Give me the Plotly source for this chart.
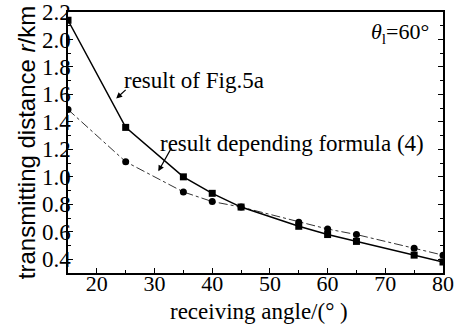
import plotly.graph_objects as go

angles = [15, 25, 35, 40, 45, 55, 60, 65, 75, 80]
fig5a_dist = [2.14, 1.36, 1.00, 0.88, 0.78, 0.64, 0.58, 0.53, 0.43, 0.38]
formula4_dist = [1.49, 1.11, 0.89, 0.82, 0.78, 0.67, 0.62, 0.58, 0.48, 0.43]

serif = "Liberation Serif"
sans = "Liberation Sans"

fig = go.Figure()
fig.add_trace(go.Scatter(
    x=angles, y=formula4_dist, mode="lines+markers",
    line=dict(color="#333333", width=1, dash="dashdot"),
    marker=dict(symbol="circle", size=7, color="black"),
    showlegend=False))
fig.add_trace(go.Scatter(
    x=angles, y=fig5a_dist, mode="lines+markers",
    line=dict(color="black", width=1.5),
    marker=dict(symbol="square", size=7, color="black"),
    showlegend=False))

fig.update_layout(
    width=458, height=325,
    margin=dict(l=68, r=15, t=12, b=52),
    paper_bgcolor="white", plot_bgcolor="white",
    font=dict(family=serif, size=22, color="black"),
    xaxis=dict(
        range=[15, 80], tickvals=[20, 30, 40, 50, 60, 70, 80],
        ticks="inside", ticklen=5, tickwidth=1.2, tickcolor="black",
        minor=dict(dtick=5, ticks="inside", ticklen=3, tickcolor="black"),
        showline=True, linecolor="black", linewidth=1.5, mirror=True,
        showgrid=False, zeroline=False, automargin=False,
        tickfont=dict(family=serif, size=22), ticklabelstandoff=-10,
    ),
    yaxis=dict(
        range=[0.3, 2.2], tickvals=[0.4, 0.6, 0.8, 1.0, 1.2, 1.4, 1.6, 1.8, 2.0, 2.2],
        ticktext=["0.4", "0.6", "0.8", "1.0", "1.2", "1.4", "1.6", "1.8", "2.0", "2.2"],
        ticks="inside", ticklen=5, tickwidth=1.2, tickcolor="black",
        minor=dict(dtick=0.1, tick0=0.3, ticks="inside", ticklen=3, tickcolor="black"),
        showline=True, linecolor="black", linewidth=1.5, mirror="ticks",
        showgrid=False, zeroline=False, automargin=False,
        tickfont=dict(family=serif, size=23), ticklabelstandoff=-9,
        title=dict(text="transmitting distance <i>r</i>/km", font=dict(family=sans, size=24), standoff=0),
    ),
)

# x-axis title
fig.add_annotation(x=0.51, y=0, xref="paper", yref="paper", yshift=-38,
                   text="receiving angle/(° )", showarrow=False,
                   xanchor="center", yanchor="middle",
                   font=dict(family=serif, size=23))

fig.add_annotation(x=24.4, y=1.70, xref="x", yref="y", text="result of Fig.5a",
                   showarrow=False, xanchor="left", yanchor="middle",
                   font=dict(family=serif, size=23))
fig.add_annotation(x=23.35, y=1.57, xref="x", yref="y", text="", showarrow=True,
                   arrowhead=2, arrowsize=1, arrowwidth=1.2, arrowcolor="black", ax=11, ay=-10)
fig.add_annotation(x=30.65, y=1.245, xref="x", yref="y", text="result depending formula (4)",
                   showarrow=False, xanchor="left", yanchor="middle",
                   font=dict(family=serif, size=23))
fig.add_annotation(x=30.65, y=1.04, xref="x", yref="y", text="", showarrow=True,
                   arrowhead=2, arrowsize=1, arrowwidth=1.2, arrowcolor="black", ax=14, ay=-25)
fig.add_annotation(x=78.0, y=2.05, xref="x", yref="y", text="<i>θ</i><sub>l</sub>=60°",
                   showarrow=False, xanchor="right", yanchor="middle",
                   font=dict(family=serif, size=22))

fig.write_html("out.html", config={"displayModeBar": False},
               post_script="document.body.style.margin='0';")
